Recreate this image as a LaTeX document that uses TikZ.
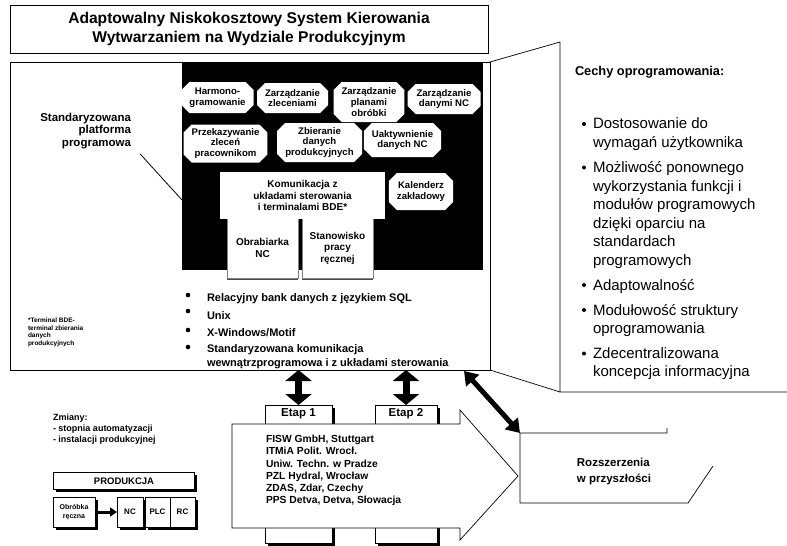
\documentclass[tikz,border=0pt]{standalone}
\usepackage{fontspec}
\setmainfont{Liberation Sans}
\usetikzlibrary{arrows.meta,shapes.misc,shadows}

\begin{document}
\begin{tikzpicture}[x=1pt,y=-1pt,
  every node/.style={inner sep=0pt, outer sep=0pt},
  frame/.style={draw, line width=0.8pt},
  oct/.style={chamfered rectangle, chamfered rectangle xsep=8pt,
    chamfered rectangle ysep=0pt, fill=white, align=center,
    font=\fontsize{9.6}{10.8}\selectfont\bfseries},
  wbox/.style={fill=white, align=center, font=\fontsize{10}{11.5}\selectfont\bfseries},
  shbox/.style={draw, fill=white, align=center,
    general shadow={fill=black, shadow xshift=2.5pt, shadow yshift=-2.5pt}},
  dbl/.style={line width=7pt, {Triangle[width=26pt,length=11pt]}-{Triangle[width=26pt,length=11pt]}},
  dot/.style={circle, fill=black, minimum size=4.6pt},
  rtext/.style={anchor=base west, font=\fontsize{15}{18.5}\selectfont},
  btext/.style={anchor=base west, font=\fontsize{11}{14}\selectfont\bfseries}
]
\useasboundingbox (0,0) rectangle (787,546);

% title
\node[frame, minimum width=478, minimum height=48, align=center,
  font=\fontsize{15.6}{18.5}\selectfont\bfseries] (title) at (249,29)
  {Adaptowalny Niskokosztowy System Kierowania\\Wytwarzaniem na Wydziale Produkcyjnym};

% main frame and black platform
\node[frame, minimum width=480, minimum height=308] (main) at (250,216) {};
\node[fill=black, minimum width=301, minimum height=208] (plat) at (332.5,166) {};

% modules
\node[oct, minimum width=69, minimum height=31] (harm) at (217.5,97.5) {Harmono-\\gramowanie};
\node[oct, minimum width=71, minimum height=30] (zlec) at (292.5,98) {Zarządzanie\\zleceniami};
\node[oct, minimum width=64, minimum height=40] (plan) at (369,102) {Zarządzanie\\planami\\obróbki};
\node[oct, minimum width=73, minimum height=30] (dnc) at (444,99) {Zarządzanie\\danymi NC};
\node[oct, minimum width=75, minimum height=38] (przek) at (225.5,143.5) {Przekazywanie\\zleceń\\pracownikom};
\node[oct, minimum width=85, minimum height=39] (zbier) at (319.5,142.5) {Zbieranie\\danych\\produkcyjnych};
\node[oct, minimum width=75, minimum height=34] (uakt) at (402.5,140) {Uaktywnienie\\danych NC};
\node[oct, minimum width=64, minimum height=37] (kal) at (421,191.5) {Kalenderz\\zakładowy};
\node[wbox, draw=gray, minimum width=71, minimum height=60,
  general shadow={fill=black!70, shadow xshift=0pt, shadow yshift=-2pt}] (obr) at (262.5,248) {Obrabiarka\\NC};
\node[wbox, draw=gray, minimum width=71, minimum height=60,
  general shadow={fill=black!70, shadow xshift=0pt, shadow yshift=-2pt}] (stan) at (337.5,248) {Stanowisko\\pracy\\ręcznej};
\node[wbox, minimum width=165, minimum height=47] (kom) at (302.5,195.5)
  {Komunikacja z\\układami sterowania\\i terminalami BDE*};

% platform label
\node[anchor=north east, align=right, font=\fontsize{11.5}{12.5}\selectfont\bfseries] (stdl) at (131,113)
  {Standaryzowana\\platforma\\programowa};
\coordinate (ptr) at (182,200);
\draw[line width=0.8pt] ([shift={(9,5)}]stdl.south east) -- (ptr);

% platform features
\foreach \y in {295,311,330,347} \node[dot] at (188,\y) {};
\node[btext] (f1) at (207,301.5) {Relacyjny bank danych z językiem SQL};
\node[btext] (f2) at (207,319) {Unix};
\node[btext] (f3) at (207,336) {X-Windows/Motif};
\node[btext, align=left] (f4) at (207,352) {Standaryzowana komunikacja};
\node[btext] (f5) at (207,366) {wewnątrzprogramowa i z układami sterowania};

% footnote
\node[anchor=north west, align=left, font=\fontsize{6.5}{7.5}\selectfont\bfseries] (foot) at (28,318)
  {*Terminal BDE-\\terminal zbierania\\danych\\produkcyjnych};

% software features panel
\coordinate (rpt) at (560,42);
\coordinate (rpb) at (560,392);
\coordinate (rpe) at (787,392);
\draw[line width=0.7pt] (main.north east) -- (rpt) -- (rpb) -- (rpe);
\draw[line width=0.7pt] (main.south east) -- (rpb);
\node[anchor=base west, font=\fontsize{12.8}{15}\selectfont\bfseries] (cechy) at (575,75) {Cechy oprogramowania:};
\foreach \y in {124,167.5,285,310,353.5} \node[dot, minimum size=4pt] at (584,\y) {};
\node[rtext, anchor=north west, align=left] (c1) at (593,118) {Dostosowanie do\\wymagań użytkownika};
\node[rtext, anchor=north west, align=left] (c2) at (593,161.5) {Możliwość ponownego\\wykorzystania funkcji i\\modułów programowych\\dzięki oparciu na\\standardach\\programowych};
\node[rtext, anchor=north west, align=left] (c3) at (593,279) {Adaptowalność};
\node[rtext, anchor=north west, align=left] (c4) at (593,304) {Modułowość struktury\\oprogramowania};
\node[rtext, anchor=north west, align=left] (c5) at (593,347.5) {Zdecentralizowana\\koncepcja informacyjna};

% stages
\node[shbox, minimum width=67, minimum height=138] (e1) at (298.5,474) {};
\node[shbox, minimum width=62, minimum height=138] (e2) at (406,474) {};
\node[font=\fontsize{11.5}{13}\selectfont\bfseries] (e1t) at (298.5,414) {Etap 1};
\node[font=\fontsize{11.5}{13}\selectfont\bfseries] (e2t) at (406,414) {Etap 2};
\draw[dbl] (e1.north |- main.south) -- (e1.north);
\draw[dbl] (e2.north |- main.south) -- (e2.north);

% partner arrow
\draw[line width=0.7pt, fill=white] (232,424) -- (460,424) -- (460,410) -- (518,476)
  -- (460,540) -- (460,528) -- (232,528) -- cycle;
\node[anchor=north west, align=left, font=\fontsize{10.3}{12.3}\selectfont\bfseries] (partners) at (266,435)
  {FISW GmbH, Stuttgart\\ITMiA Polit. Wrocł.\\Uniw. Techn. w Pradze\\PZL Hydral, Wrocław\\ZDAS, Zdar, Czechy\\PPS Detva, Detva, Słowacja};

% future extensions
\coordinate (xa) at (520,433);
\coordinate (xb) at (667,433);
\coordinate (xc) at (520,503);
\coordinate (xd) at (688,503);
\coordinate (xe) at (713,466);
\draw[line width=0.7pt] ([yshift=5]xb) -- (xb) -- (xa) -- (xc) -- (xd) -- (xe);
\node[align=left, font=\fontsize{11.5}{16}\selectfont\bfseries] (ext) at (614,472) {Rozszerzenia\\w przyszłości};
\coordinate (mainx) at (464,371);
\draw[line width=5pt, {Triangle[width=17pt,length=13pt]}-{Triangle[width=17pt,length=13pt]}] (mainx) -- (xa);

% production changes
\node[anchor=north west, align=left, font=\fontsize{9}{11}\selectfont\bfseries] (zm) at (53,414)
  {Zmiany:\\- stopnia automatyzacji\\- instalacji produkcyjnej};
\node[shbox, minimum width=141, minimum height=17, font=\fontsize{9.5}{11}\selectfont\bfseries] (prod) at (124,481) {PRODUKCJA};
\node[shbox, minimum width=42, minimum height=30, font=\fontsize{7}{9}\selectfont\bfseries] (reczna) at (74,512) {Obróbka\\ręczna};
\node[shbox, minimum width=26, minimum height=30, font=\fontsize{8}{9}\selectfont\bfseries] (nc) at (130,512) {NC};
\node[shbox, minimum width=25, minimum height=30, font=\fontsize{8}{9}\selectfont\bfseries] (plc) at (157.5,512) {PLC};
\node[shbox, minimum width=25, minimum height=30, font=\fontsize{8}{9}\selectfont\bfseries] (rc) at (182.5,512) {RC};
\draw[line width=3pt, -{Triangle[width=9pt,length=7pt]}] (reczna.east) -- (nc.west);
\end{tikzpicture}
\end{document}
